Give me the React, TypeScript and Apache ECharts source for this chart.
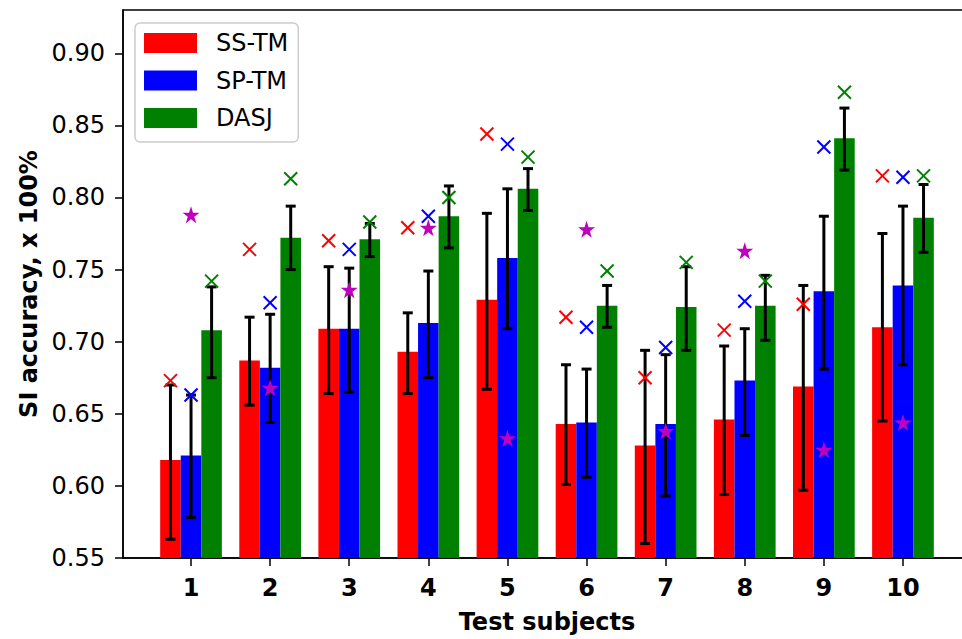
import React, { useEffect, useRef } from "react";
import * as echarts from "echarts";

const subjects = ["1", "2", "3", "4", "5", "6", "7", "8", "9", "10"];
const methods = ["SS-TM", "SP-TM", "DASJ"];
const colors = ["#ff0000", "#0000ff", "#008000"];

const ssMean = [0.618, 0.687, 0.709, 0.693, 0.729, 0.643, 0.628, 0.646, 0.669, 0.710];
const ssLow = [0.563, 0.656, 0.664, 0.664, 0.667, 0.601, 0.560, 0.594, 0.597, 0.645];
const ssHigh = [0.670, 0.717, 0.752, 0.720, 0.789, 0.684, 0.694, 0.697, 0.739, 0.775];
const ssCross = [0.673, 0.764, 0.770, 0.779, 0.844, 0.717, 0.675, 0.708, 0.726, 0.815];

const spMean = [0.621, 0.682, 0.709, 0.713, 0.758, 0.644, 0.643, 0.673, 0.735, 0.739];
const spLow = [0.578, 0.644, 0.665, 0.675, 0.709, 0.606, 0.593, 0.635, 0.681, 0.684];
const spHigh = [0.663, 0.719, 0.751, 0.749, 0.806, 0.681, 0.691, 0.709, 0.787, 0.794];
const spCross = [0.663, 0.727, 0.764, 0.787, 0.837, 0.710, 0.696, 0.728, 0.835, 0.814];

const daMean = [0.708, 0.772, 0.771, 0.787, 0.806, 0.725, 0.724, 0.725, 0.841, 0.786];
const daLow = [0.675, 0.750, 0.759, 0.765, 0.791, 0.710, 0.694, 0.701, 0.819, 0.762];
const daHigh = [0.738, 0.794, 0.782, 0.808, 0.820, 0.739, 0.752, 0.746, 0.862, 0.809];
const daCross = [0.742, 0.813, 0.783, 0.800, 0.828, 0.749, 0.755, 0.742, 0.873, 0.815];

const stars = [0.788, 0.668, 0.736, 0.779, 0.633, 0.778, 0.638, 0.763, 0.625, 0.644];

const yTicks = [0.55, 0.6, 0.65, 0.7, 0.75, 0.8, 0.85, 0.9];
const xTicks = [1, 2, 3, 4, 5, 6, 7, 8, 9, 10];

const Y_MIN = 0.55;
const Y_MAX = 0.93;
const X_MIN = 0.14;
const X_MAX = 10.86;
const BAR_W = 0.26;
const FONT = "DejaVu Sans";

const means = [ssMean, spMean, daMean];
const lows = [ssLow, spLow, daLow];
const highs = [ssHigh, spHigh, daHigh];
const crosses = [ssCross, spCross, daCross];
const offsets = [-BAR_W, 0, BAR_W];

const STAR_PATH =
  "path://M50,0 L61.2,34.5 L97.6,34.5 L68.2,55.9 L79.4,90.5 L50,69.1 L20.6,90.5 L31.8,55.9 L2.4,34.5 L38.8,34.5 Z";

export default function App() {
  const ref = useRef<HTMLDivElement>(null);

  useEffect(() => {
    if (!ref.current) return;
    const chart = echarts.init(ref.current, undefined, { renderer: "svg" });

    const series: any[] = [];

    methods.forEach((name, m) => {
      const off = offsets[m];
      const color = colors[m];
      series.push({
        type: "custom",
        name,
        z: 2,
        itemStyle: { color },
        encode: { x: 0, y: 1 },
        data: means[m].map((v, i) => [i + 1, v]),
        renderItem: (params: any, api: any) => {
          const x = api.value(0) + off;
          const y = api.value(1);
          const p1 = api.coord([x - BAR_W / 2, y]);
          const p2 = api.coord([x + BAR_W / 2, Y_MIN]);
          return {
            type: "rect",
            shape: { x: p1[0], y: p1[1], width: p2[0] - p1[0], height: p2[1] - p1[1] },
            style: { fill: color },
          };
        },
      });
    });

    methods.forEach((name, m) => {
      const off = offsets[m];
      series.push({
        type: "custom",
        name: name + " err",
        z: 3,
        encode: { x: 0, y: [1, 2] },
        data: lows[m].map((v, i) => [i + 1, v, highs[m][i]]),
        renderItem: (params: any, api: any) => {
          const x = api.value(0) + off;
          const lo = api.coord([x, api.value(1)]);
          const hi = api.coord([x, api.value(2)]);
          const cw = 5;
          const st = { stroke: "#000", lineWidth: 3 };
          return {
            type: "group",
            children: [
              { type: "line", shape: { x1: lo[0], y1: lo[1], x2: hi[0], y2: hi[1] }, style: st },
              { type: "line", shape: { x1: lo[0] - cw, y1: lo[1], x2: lo[0] + cw, y2: lo[1] }, style: st },
              { type: "line", shape: { x1: hi[0] - cw, y1: hi[1], x2: hi[0] + cw, y2: hi[1] }, style: st },
            ],
          };
        },
      });
    });

    methods.forEach((name, m) => {
      const off = offsets[m];
      const color = colors[m];
      series.push({
        type: "custom",
        name: name + " max",
        z: 4,
        encode: { x: 0, y: 1 },
        data: crosses[m].map((v, i) => [i + 1, v]),
        renderItem: (params: any, api: any) => {
          const c = api.coord([api.value(0) + off, api.value(1)]);
          const h = 6.5;
          const st = { stroke: color, lineWidth: 2 };
          return {
            type: "group",
            children: [
              { type: "line", shape: { x1: c[0] - h, y1: c[1] - h, x2: c[0] + h, y2: c[1] + h }, style: st },
              { type: "line", shape: { x1: c[0] - h, y1: c[1] + h, x2: c[0] + h, y2: c[1] - h }, style: st },
            ],
          };
        },
      });
    });

    series.push({
      type: "scatter",
      name: "star",
      z: 5,
      symbol: STAR_PATH,
      symbolSize: 17,
      itemStyle: { color: "#bf00bf", opacity: 1 },
      data: stars.map((v, i) => [i + 1, v]),
    });

    const option: any = {
      animation: false,
      backgroundColor: "#ffffff",
      grid: {
        left: 123,
        top: 10,
        width: 848,
        height: 551,
        show: true,
        borderColor: "#000",
        borderWidth: 1.5,
        backgroundColor: "transparent",
      },
      legend: {
        left: 135,
        top: 23,
        orient: "vertical",
        icon: "rect",
        itemWidth: 53,
        itemHeight: 20,
        itemGap: 13.5,
        padding: [8, 10, 12, 9],
        backgroundColor: "rgba(255,255,255,0.85)",
        borderColor: "#cccccc",
        borderWidth: 1.5,
        borderRadius: 5,
        textStyle: { fontSize: 24, color: "#000", fontFamily: FONT, padding: [0, 0, 0, 14] },
        data: methods,
      },
      xAxis: {
        type: "value",
        min: X_MIN,
        max: X_MAX,
        name: "Test subjects",
        nameLocation: "middle",
        nameGap: 52,
        nameTextStyle: { fontSize: 24, fontWeight: "bold", color: "#000", fontFamily: FONT },
        axisLine: { show: true, lineStyle: { color: "#000", width: 1.5 } },
        axisTick: { show: true, length: 8, lineStyle: { color: "#000", width: 1.5 }, customValues: xTicks },
        axisLabel: {
          customValues: xTicks,
          margin: 18,
          fontSize: 24,
          fontWeight: "bold",
          color: "#000",
          fontFamily: FONT,
          formatter: (v: number) => subjects[Math.round(v) - 1] ?? "",
        },
        splitLine: { show: false },
      },
      yAxis: {
        type: "value",
        min: Y_MIN,
        max: Y_MAX,
        interval: 0.05,
        name: "SI accuracy, x 100%",
        nameLocation: "middle",
        nameGap: 82,
        nameTextStyle: { fontSize: 24, fontWeight: "bold", color: "#000", fontFamily: FONT },
        axisLine: { show: true, lineStyle: { color: "#000", width: 1.5 } },
        axisTick: { show: true, length: 8, lineStyle: { color: "#000", width: 1.5 }, customValues: yTicks },
        axisLabel: {
          customValues: yTicks,
          margin: 18,
          fontSize: 24,
          color: "#000",
          fontFamily: FONT,
          formatter: (v: number) => v.toFixed(2),
        },
        splitLine: { show: false },
      },
      series,
    };

    chart.setOption(option);
    return () => chart.dispose();
  }, []);

  return (
    <div
      style={{
        position: "fixed",
        left: 0,
        top: 0,
        width: 962,
        height: 639,
        overflow: "hidden",
        background: "#fff",
      }}
    >
      <div ref={ref} style={{ width: 1000, height: 639 }} />
    </div>
  );
}
